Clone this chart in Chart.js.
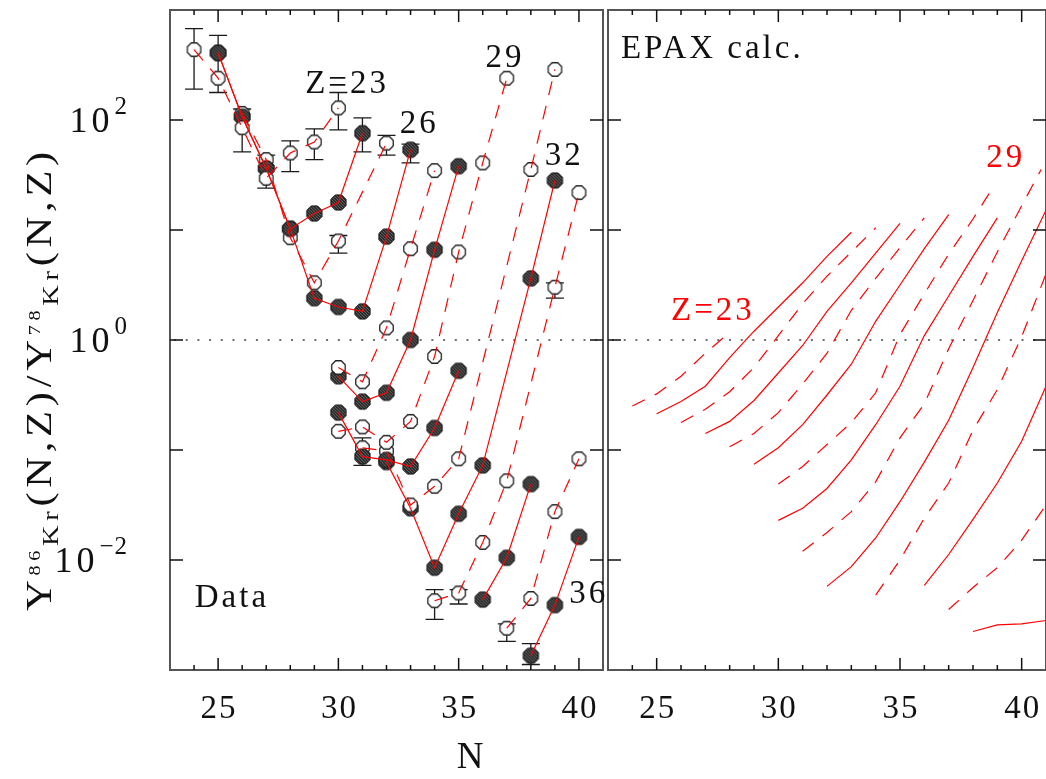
<!DOCTYPE html>
<html>
<head>
<meta charset="utf-8">
<script src="https://cdn.jsdelivr.net/npm/chart.js@4/dist/chart.umd.min.js"></script>
<style>
  body { margin: 0; background: #fff; }
  #wrap { position: relative; width: 1046px; height: 779px; overflow: hidden; }
  canvas { position: absolute; top: 0; }
</style>
</head>
<body>
<div id="wrap">
  <canvas id="leftChart" width="612" height="779" style="left:0"></canvas>
  <canvas id="rightChart" width="442" height="779" style="left:604px"></canvas>
</div>
<script>
// values are log10 of Y(86Kr)/Y(78Kr)
// --- measured data (left panel), one chain per element Z ---
const dataZ23N = [24, 25, 26, 27, 28, 29, 30];
const dataZ23  = [2.64, 2.38, 1.93, 1.47, 1.70, 1.80, 2.11];
const dataZ24N = [25, 26, 27, 28, 29, 30, 31];
const dataZ24  = [2.61, 2.03, 1.56, 1.01, 1.15, 1.25, 1.88];
const dataZ25N = [26, 27, 28, 29, 30, 32];
const dataZ25  = [2.06, 1.64, 0.93, 0.52, 0.90, 1.79];
const dataZ26N = [25, 26, 27, 28, 29, 30, 31, 32, 33];
const dataZ26  = [2.61, 2.03, 1.56, 1.01, 0.38, 0.30, 0.26, 0.94, 1.73];
const dataZ27N = [30, 31, 32, 33, 34];
const dataZ27  = [-0.25, -0.38, 0.11, 0.83, 1.54];
const dataZ28N = [30, 31, 32, 33, 34, 35];
const dataZ28  = [-0.33, -0.56, -0.48, 0.00, 0.82, 1.58];
const dataZ29N = [30, 31, 32, 33, 34, 35, 36, 37];
const dataZ29  = [-0.83, -0.79, -0.93, -0.74, -0.15, 0.80, 1.61, 2.38];
const dataZ30N = [30, 31, 32, 33, 34, 35];
const dataZ30  = [-0.66, -1.06, -1.09, -1.15, -0.80, -0.28];
const dataZ31N = [31, 32, 33, 34, 35, 38, 39];
const dataZ31  = [-0.98, -1.01, -1.50, -1.33, -1.08, 1.55, 2.46];
const dataZ32N = [32, 33, 34, 35, 36, 38, 39];
const dataZ32  = [-1.11, -1.53, -2.07, -1.58, -1.14, 0.56, 1.45];
const dataZ33N = [34, 35, 36, 37, 39, 40];
const dataZ33  = [-2.37, -2.30, -1.84, -1.28, 0.48, 1.34];
const dataZ34N = [36, 37, 38];
const dataZ34  = [-2.36, -1.98, -1.31];
const dataZ35N = [37, 38, 39, 40];
const dataZ35  = [-2.62, -2.35, -1.56, -1.08];
const dataZ36N = [38, 39, 40];
const dataZ36  = [-2.87, -2.41, -1.79];

// error bars (log10 lower / upper)
const errN  = [24, 25, 26, 27, 28, 29, 30, 31, 32, 33, 30, 39, 31, 34, 35, 37, 38];
const errLo = [2.28, 2.25, 1.71, 1.38, 1.53, 1.64, 1.91, 1.71, 1.68, 1.61, 0.79, 0.38, -1.14, -2.54, -2.40, -2.74, -2.95];
const errHi = [2.83, 2.77, 2.10, 1.68, 1.81, 1.92, 2.25, 2.02, 1.86, 1.78, 0.95, 0.52, -0.89, -2.27, -2.27, -2.58, -2.76];

// --- EPAX calculation (right panel) ---
const epaxZ23N = [24, 25, 26, 27, 28];
const epaxZ23  = [-0.60, -0.49, -0.33, -0.12, 0.07];
const epaxZ24N = [25, 26, 27, 28, 29, 30, 31, 32, 33];
const epaxZ24  = [-0.67, -0.56, -0.42, -0.16, 0.08, 0.30, 0.52, 0.76, 0.98];
const epaxZ25N = [26, 27, 28, 29, 30, 31, 32, 33, 34];
const epaxZ25  = [-0.75, -0.63, -0.47, -0.25, 0.04, 0.33, 0.58, 0.80, 1.02];
const epaxZ26N = [27, 28, 29, 30, 31, 32, 33, 34, 35];
const epaxZ26  = [-0.85, -0.74, -0.55, -0.30, -0.05, 0.26, 0.52, 0.79, 1.06];
const epaxZ27N = [28, 29, 30, 31, 32, 33, 34, 35, 36];
const epaxZ27  = [-0.97, -0.85, -0.66, -0.40, -0.12, 0.27, 0.56, 0.84, 1.11];
const epaxZ28N = [29, 30, 31, 32, 33, 34, 35, 36, 37];
const epaxZ28  = [-1.13, -0.98, -0.77, -0.50, -0.22, 0.17, 0.50, 0.83, 1.14];
const epaxZ29N = [30, 31, 32, 33, 34, 35, 36, 37, 38, 38.8];
const epaxZ29  = [-1.31, -1.15, -0.95, -0.75, -0.48, 0.05, 0.42, 0.78, 1.10, 1.38];
const epaxZ30N = [30, 31, 32, 33, 34, 35, 36, 37, 38, 39];
const epaxZ30  = [-1.64, -1.53, -1.35, -1.09, -0.77, -0.42, 0.04, 0.40, 0.76, 1.11];
const epaxZ31N = [31, 32, 33, 34, 35, 36, 37, 38, 39, 40, 40.8];
const epaxZ31  = [-1.92, -1.75, -1.56, -1.29, -0.89, -0.58, -0.08, 0.36, 0.80, 1.22, 1.55];
const epaxZ32N = [32, 33, 34, 35, 36, 37, 38, 39, 40, 41];
const epaxZ32  = [-2.24, -2.06, -1.80, -1.47, -1.11, -0.73, -0.25, 0.25, 0.72, 1.18];
const epaxZ33N = [34, 35, 36, 37, 38, 39, 40, 41];
const epaxZ33  = [-2.32, -2.00, -1.62, -1.30, -0.82, -0.45, 0.03, 0.60];
const epaxZ34N = [36, 37, 38, 39, 40, 41];
const epaxZ34  = [-2.23, -1.95, -1.63, -1.30, -0.92, -0.42];
const epaxZ35N = [37, 38, 39, 40, 41];
const epaxZ35  = [-2.45, -2.25, -2.07, -1.82, -1.50];
const epaxZ36N = [38, 39, 40, 41];
const epaxZ36  = [-2.65, -2.59, -2.58, -2.55];

const xTicks = [25, 30, 35, 40];
const yTickExp = [2, 0, -2];

// text annotations: [text, N, log10 value, colour]
const leftLabels = [
    ['Z=23', 28.62, 2.25, '#111'],
    ['26', 32.55, 1.88, '#111'],
    ['29', 36.12, 2.48, '#111'],
    ['32', 38.58, 1.59, '#111'],
    ['36', 39.60, -2.39, '#111'],
    ['Data', 24.03, -2.43, '#111']
];
const rightLabels = [
    ['EPAX calc.', 23.53, 2.56, '#111'],
    ['Z=23', 25.59, 0.18, '#ff0000'],
    ['29', 38.54, 1.57, '#ff0000']
];

const dataChains = [
    [23, dataZ23N, dataZ23], [24, dataZ24N, dataZ24], [25, dataZ25N, dataZ25],
    [26, dataZ26N, dataZ26], [27, dataZ27N, dataZ27], [28, dataZ28N, dataZ28],
    [29, dataZ29N, dataZ29], [30, dataZ30N, dataZ30], [31, dataZ31N, dataZ31],
    [32, dataZ32N, dataZ32], [33, dataZ33N, dataZ33], [34, dataZ34N, dataZ34],
    [35, dataZ35N, dataZ35], [36, dataZ36N, dataZ36]
];
const epaxChains = [
    [23, epaxZ23N, epaxZ23], [24, epaxZ24N, epaxZ24], [25, epaxZ25N, epaxZ25],
    [26, epaxZ26N, epaxZ26], [27, epaxZ27N, epaxZ27], [28, epaxZ28N, epaxZ28],
    [29, epaxZ29N, epaxZ29], [30, epaxZ30N, epaxZ30], [31, epaxZ31N, epaxZ31],
    [32, epaxZ32N, epaxZ32], [33, epaxZ33N, epaxZ33], [34, epaxZ34N, epaxZ34],
    [35, epaxZ35N, epaxZ35], [36, epaxZ36N, epaxZ36]
];

const FONT = '"Liberation Serif", "DejaVu Serif", serif';

// octagon markers: hatched dark ones and open ones
function makeMarker(filled) {
    const s = filled ? 19 : 17;
    const r = filled ? 8.2 : 7.3;
    const c = document.createElement('canvas');
    c.width = s; c.height = s;
    const g = c.getContext('2d');
    const path = () => {
        g.beginPath();
        for (let k = 0; k < 8; k++) {
            const a = Math.PI / 8 + k * Math.PI / 4;
            g.lineTo(s / 2 + r * Math.cos(a), s / 2 + r * Math.sin(a));
        }
        g.closePath();
    };
    path();
    if (filled) {
        g.fillStyle = '#2a2a2a';
        g.fill();
        g.save();
        g.clip();
        g.strokeStyle = '#808080';
        g.lineWidth = 0.7;
        for (let d = -s; d < s * 2; d += 3) {
            g.beginPath(); g.moveTo(d, 0); g.lineTo(d + s, s); g.stroke();
        }
        g.restore();
        path();
        g.strokeStyle = '#111';
        g.lineWidth = 1;
        g.stroke();
    } else {
        g.fillStyle = '#fff';
        g.fill();
        g.strokeStyle = '#222';
        g.lineWidth = 1.3;
        g.stroke();
    }
    return c;
}
const fullMark = makeMarker(true);
const openMark = makeMarker(false);

function buildDatasets(chains, withMarkers) {
    const ds = [];
    chains.forEach(([z, ns, vs]) => {
        const pts = ns.map((n, i) => ({ x: n, y: Math.pow(10, vs[i]) }));
        const odd = z % 2 === 1;
        ds.push({
            data: pts, showLine: true, borderColor: '#ff0000', borderWidth: 1.2,
            borderDash: odd ? [14, 11] : [], pointRadius: 0, order: 1
        });
        if (withMarkers) {
            ds.push({ data: pts, showLine: false, pointStyle: odd ? openMark : fullMark, pointRadius: 8, order: 2 });
        }
    });
    return ds;
}

function setFont(ctx, size, spacing) {
    ctx.font = size + 'px ' + FONT;
    ctx.letterSpacing = (spacing || 0) + 'px';
}

const framePlugin = {
    id: 'framePlugin',
    beforeDatasetsDraw(chart, args, opts) {
        const { ctx, chartArea: a, scales: { x, y } } = chart;
        ctx.save();
        // dotted line at ratio = 1
        const y1 = y.getPixelForValue(1);
        ctx.strokeStyle = '#707070';
        ctx.lineWidth = 2;
        ctx.setLineDash([2, 9.7]);
        ctx.beginPath(); ctx.moveTo(a.left + 4, y1); ctx.lineTo(a.right, y1); ctx.stroke();
        ctx.setLineDash([]);
        // error bars
        if (opts.errors) {
            ctx.strokeStyle = '#1a1a1a';
            ctx.lineWidth = 1.3;
            errN.forEach((n, i) => {
                const px = x.getPixelForValue(n);
                const lo = y.getPixelForValue(Math.pow(10, errLo[i]));
                const hi = y.getPixelForValue(Math.pow(10, errHi[i]));
                ctx.beginPath();
                ctx.moveTo(px, lo); ctx.lineTo(px, hi);
                ctx.moveTo(px - 9, lo); ctx.lineTo(px + 9, lo);
                ctx.moveTo(px - 9, hi); ctx.lineTo(px + 9, hi);
                ctx.stroke();
            });
        }
        ctx.restore();
    },
    afterDraw(chart, args, opts) {
        const { ctx, chartArea: a, scales: { x, y } } = chart;
        ctx.save();
        // frame
        ctx.strokeStyle = '#555';
        ctx.lineWidth = 2;
        ctx.strokeRect(a.left, a.top, a.right - a.left, a.bottom - a.top);
        // ticks
        ctx.strokeStyle = '#111';
        ctx.lineWidth = 1.5;
        ctx.beginPath();
        for (let n = 24; n <= 40; n++) {
            const px = x.getPixelForValue(n);
            const len = n % 5 === 0 ? 12 : 5;
            ctx.moveTo(px, a.bottom); ctx.lineTo(px, a.bottom - len);
            ctx.moveTo(px, a.top); ctx.lineTo(px, a.top + len);
        }
        for (let e = -2; e <= 2; e++) {
            const py = y.getPixelForValue(Math.pow(10, e));
            ctx.moveTo(a.left, py); ctx.lineTo(a.left + 13, py);
            ctx.moveTo(a.right, py); ctx.lineTo(a.right - 13, py);
        }
        ctx.stroke();

        ctx.fillStyle = '#111';
        ctx.textBaseline = 'alphabetic';
        // x tick labels
        setFont(ctx, 33, 2);
        ctx.textAlign = 'center';
        xTicks.forEach(t => ctx.fillText(String(t), x.getPixelForValue(t) + 1, a.bottom + 48));

        if (opts.yAxis) {
            // y tick labels 10^e
            yTickExp.forEach(e => {
                const py = y.getPixelForValue(Math.pow(10, e));
                const sup = e < 0 ? '\u2212' + (-e) : String(e);
                setFont(ctx, 25, 1);
                ctx.textAlign = 'right';
                const xr = a.left - 42;
                const wSup = ctx.measureText(sup).width;
                ctx.fillText(sup, xr, py - 6);
                setFont(ctx, 36, 4);
                ctx.fillText('10', xr - wSup - 1, py + 12);
            });
            // y axis title
            const parts = [['Y', 36, 0], ['86', 17, -11], ['Kr', 24, 7], ['(N,Z)/Y', 36, 0],
                           ['78', 17, -11], ['Kr', 24, 7], ['(N,Z)', 36, 0]];
            ctx.save();
            ctx.translate(51, 379);
            ctx.rotate(-Math.PI / 2);
            let total = 0;
            parts.forEach(p => { setFont(ctx, p[1], 4); total += ctx.measureText(p[0]).width; });
            const k = 464 / total;
            ctx.scale(k, 1);
            let cx = -total / 2;
            ctx.textAlign = 'left';
            parts.forEach(p => {
                setFont(ctx, p[1], 4);
                ctx.fillText(p[0], cx, p[2]);
                cx += ctx.measureText(p[0]).width;
            });
            ctx.restore();
            // x axis title
            setFont(ctx, 37, 0);
            ctx.textAlign = 'center';
            ctx.fillText('N', a.left + 300, a.bottom + 98);
        }

        // annotations
        ctx.textAlign = 'left';
        (opts.labels || []).forEach(([s, n, v, col]) => {
            setFont(ctx, 33, 3);
            ctx.fillStyle = col;
            ctx.fillText(s, x.getPixelForValue(n), y.getPixelForValue(Math.pow(10, v)));
        });
        ctx.restore();
    }
};

function makeChart(id, datasets, padding, pluginOpts) {
    return new Chart(document.getElementById(id), {
        type: 'scatter',
        data: { datasets: datasets },
        options: {
            responsive: false,
            animation: false,
            devicePixelRatio: 1,
            layout: { padding: padding },
            plugins: {
                legend: { display: false },
                tooltip: { enabled: false },
                framePlugin: pluginOpts
            },
            scales: {
                x: { type: 'linear', min: 23, max: 41, display: false },
                y: { type: 'logarithmic', min: 1e-3, max: 1e3, display: false }
            }
        },
        plugins: [framePlugin]
    });
}

makeChart('leftChart', buildDatasets(dataChains, true),
    { left: 170, right: 4, top: 10, bottom: 109 },
    { errors: true, yAxis: true, labels: leftLabels });
makeChart('rightChart', buildDatasets(epaxChains, false),
    { left: 4, right: 0, top: 10, bottom: 109 },
    { errors: false, yAxis: false, labels: rightLabels });
</script>
</body>
</html>
